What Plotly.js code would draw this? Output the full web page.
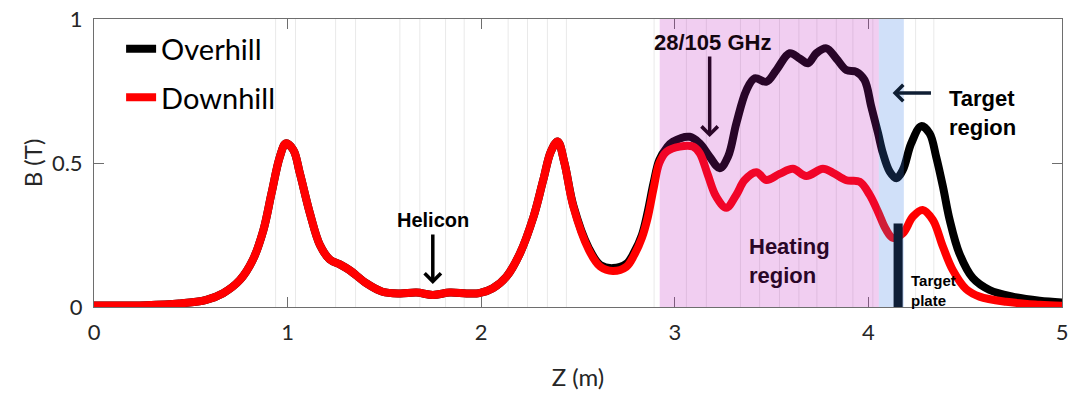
<!DOCTYPE html>
<html>
<head>
<meta charset="utf-8">
<script src="https://cdn.plot.ly/plotly-3.0.1.min.js"></script>
<style>html,body{margin:0;padding:0;background:#fff;}#chart{width:1070px;height:396px;}</style>
</head>
<body>
<div id="chart"></div>
<script>
// Downhill configuration (red)
const zDownhill = [0, 0.27, 0.44, 0.58, 0.667, 0.754, 0.82, 0.875, 0.917, 0.96, 0.991, 1.03, 1.063, 1.115, 1.167, 1.218, 1.27, 1.32, 1.408, 1.49, 1.58, 1.666, 1.75, 1.838, 1.924, 1.99, 2.06, 2.13, 2.2, 2.27, 2.32, 2.36, 2.395, 2.43, 2.476, 2.556, 2.615, 2.68, 2.75, 2.79, 2.83, 2.86, 2.89, 2.92, 2.957, 3.025, 3.094, 3.129, 3.17, 3.214, 3.266, 3.318, 3.36, 3.421, 3.473, 3.541, 3.61, 3.679, 3.765, 3.817, 3.886, 3.955, 4.006, 4.05, 4.09, 4.127, 4.178, 4.23, 4.28, 4.333, 4.385, 4.436, 4.505, 4.574, 4.712, 4.884, 5.0];
const bDownhill = [0.005, 0.006, 0.012, 0.025, 0.048, 0.094, 0.163, 0.267, 0.395, 0.522, 0.568, 0.545, 0.465, 0.326, 0.215, 0.165, 0.148, 0.128, 0.082, 0.053, 0.047, 0.05, 0.042, 0.05, 0.047, 0.048, 0.065, 0.105, 0.186, 0.313, 0.44, 0.54, 0.575, 0.5, 0.348, 0.198, 0.14, 0.125, 0.14, 0.18, 0.24, 0.31, 0.41, 0.5, 0.539, 0.557, 0.557, 0.534, 0.46, 0.383, 0.345, 0.39, 0.44, 0.468, 0.441, 0.462, 0.48, 0.455, 0.48, 0.466, 0.44, 0.435, 0.39, 0.33, 0.27, 0.24, 0.256, 0.314, 0.337, 0.302, 0.209, 0.128, 0.062, 0.036, 0.018, 0.008, 0.004];

// Overhill configuration (black)
const zOverhill = [0, 0.27, 0.44, 0.58, 0.667, 0.754, 0.82, 0.875, 0.917, 0.96, 0.991, 1.03, 1.063, 1.115, 1.167, 1.218, 1.27, 1.32, 1.408, 1.49, 1.58, 1.666, 1.75, 1.838, 1.924, 1.99, 2.06, 2.13, 2.2, 2.27, 2.32, 2.36, 2.395, 2.43, 2.476, 2.556, 2.615, 2.68, 2.75, 2.79, 2.83, 2.86, 2.89, 2.92, 2.96, 2.99, 3.077, 3.129, 3.18, 3.232, 3.275, 3.318, 3.37, 3.413, 3.473, 3.525, 3.593, 3.645, 3.688, 3.731, 3.783, 3.834, 3.886, 3.937, 3.98, 4.015, 4.05, 4.075, 4.11, 4.144, 4.178, 4.221, 4.273, 4.316, 4.35, 4.385, 4.42, 4.47, 4.54, 4.626, 4.745, 4.884, 5.0];
const bOverhill = [0.005, 0.006, 0.012, 0.025, 0.048, 0.094, 0.163, 0.267, 0.395, 0.522, 0.568, 0.545, 0.465, 0.326, 0.215, 0.165, 0.148, 0.128, 0.082, 0.053, 0.047, 0.05, 0.042, 0.05, 0.047, 0.048, 0.065, 0.105, 0.186, 0.313, 0.44, 0.54, 0.575, 0.5, 0.352, 0.204, 0.146, 0.135, 0.15, 0.19, 0.25, 0.33, 0.43, 0.51, 0.555, 0.574, 0.591, 0.568, 0.522, 0.482, 0.522, 0.638, 0.753, 0.794, 0.782, 0.823, 0.881, 0.863, 0.846, 0.881, 0.898, 0.863, 0.823, 0.817, 0.788, 0.695, 0.603, 0.534, 0.47, 0.447, 0.476, 0.568, 0.628, 0.603, 0.522, 0.418, 0.302, 0.186, 0.1, 0.059, 0.036, 0.022, 0.016];

// Faint vertical lines (coil positions, m)
const coilZ = [0.938, 1.041, 1.248, 1.351, 1.580, 1.683, 1.816, 1.912, 2.139, 2.239, 2.342, 2.44, 2.893, 3.06, 3.163, 3.339, 3.438, 3.541, 3.641, 3.734, 3.834, 3.92, 4.023, 4.244, 4.338];

// Regions (m)
const heatingRegion = [2.922, 4.054];
const targetRegion = [4.054, 4.183];
const targetPlate = {z0: 4.13, z1: 4.177, top: 0.29};

const xTicks = [0, 1, 2, 3, 4, 5];
const yTicks = [0, 0.5, 1];
const xTickText = ['0', '1', '2', '3', '4', '5'];
const yTickText = ['0', '0.5', '1'];

const tickFont = {family: 'Lato, "Open Sans", sans-serif', size: 22, color: '#262626'};
const boldFont = 'Liberation Sans, Arial, sans-serif';

const traces = [
  {x: zOverhill, y: bOverhill, name: 'Overhill', type: 'scatter', mode: 'lines',
   line: {color: '#000000', width: 8, shape: 'spline', smoothing: 1}, legendgroup: 'a'},
  {x: zDownhill, y: bDownhill, name: 'Downhill', type: 'scatter', mode: 'lines',
   line: {color: '#ff0000', width: 8, shape: 'spline', smoothing: 1}, legendgroup: 'b'}
];

const shapes = [];
coilZ.forEach(z => shapes.push({type: 'line', xref: 'x', yref: 'paper', x0: z, x1: z, y0: 0, y1: 1,
  line: {color: 'rgba(0,0,0,0.09)', width: 1}, layer: 'below'}));
shapes.push({type: 'rect', xref: 'x', yref: 'y', x0: targetPlate.z0, x1: targetPlate.z1, y0: 0, y1: targetPlate.top,
  fillcolor: '#000000', line: {width: 0}, layer: 'above'});
shapes.push({type: 'rect', xref: 'x', yref: 'paper', x0: heatingRegion[0], x1: heatingRegion[1], y0: 0, y1: 1,
  fillcolor: 'rgba(190,24,190,0.21)', line: {width: 0}, layer: 'above'});
shapes.push({type: 'rect', xref: 'x', yref: 'paper', x0: targetRegion[0], x1: targetRegion[1], y0: 0, y1: 1,
  fillcolor: 'rgba(60,125,230,0.24)', line: {width: 0}, layer: 'above'});

const annotations = [
  {x: 3.193, y: 0.92, xref: 'x', yref: 'y', text: '<b>28/105 GHz</b>', showarrow: false,
   font: {family: boldFont, size: 22, color: '#14060f'}},
  {x: 3.18, y: 0.59, ax: 3.18, ay: 0.875, xref: 'x', yref: 'y', axref: 'x', ayref: 'y', text: '',
   showarrow: true, arrowhead: 4, arrowsize: 0.9, arrowwidth: 3.5, arrowcolor: '#2a0628', standoff: 0},
  {x: 1.75, y: 0.302, xref: 'x', yref: 'y', text: '<b>Helicon</b>', showarrow: false,
   font: {family: boldFont, size: 20, color: '#000000'}},
  {x: 1.75, y: 0.08, ax: 1.75, ay: 0.257, xref: 'x', yref: 'y', axref: 'x', ayref: 'y', text: '',
   showarrow: true, arrowhead: 4, arrowsize: 0.9, arrowwidth: 3.5, arrowcolor: '#000000', standoff: 0},
  {x: 4.404, y: 0.674, xref: 'x', yref: 'y', text: '<b>Target<br>region</b>', showarrow: false,
   xanchor: 'left', align: 'left', font: {family: boldFont, size: 22, color: '#000000'}},
  {x: 4.125, y: 0.743, ax: 4.331, ay: 0.743, xref: 'x', yref: 'y', axref: 'x', ayref: 'y', text: '',
   showarrow: true, arrowhead: 4, arrowsize: 0.9, arrowwidth: 3.5, arrowcolor: '#0f1e33', standoff: 0},
  {x: 3.371, y: 0.16, xref: 'x', yref: 'y', text: '<b>Heating<br>region</b>', showarrow: false,
   xanchor: 'left', align: 'left', font: {family: boldFont, size: 22, color: '#2a0628'}},
  {x: 4.208, y: 0.059, xref: 'x', yref: 'y', text: '<b>Target<br>plate</b>', showarrow: false,
   xanchor: 'left', align: 'left', font: {family: boldFont, size: 15, color: '#000000'}}
];

const axisCommon = {
  showgrid: false, zeroline: false, showline: true, linecolor: '#6e6e6e', linewidth: 1,
  mirror: 'ticks', ticks: 'inside', ticklen: 10, tickwidth: 1, tickcolor: '#6e6e6e',
  tickfont: tickFont, ticklabelstandoff: 6
};

const layout = {
  width: 1070, height: 396,
  margin: {l: 94, r: 8, t: 19, b: 89},
  paper_bgcolor: '#ffffff', plot_bgcolor: '#ffffff',
  showlegend: true,
  legend: {x: 0.028, y: 0.985, xanchor: 'left', yanchor: 'top', bgcolor: 'rgba(0,0,0,0)',
    font: {family: 'Lato, "Open Sans", sans-serif', size: 29, color: '#000000'},
    traceorder: 'grouped', tracegroupgap: 8, itemwidth: 30},
  xaxis: Object.assign({}, axisCommon, {range: [0, 5], tickvals: xTicks, ticktext: xTickText,
    title: {text: 'Z (m)', font: {family: 'Lato, "Open Sans", sans-serif', size: 24, color: '#262626'}, standoff: 24}}),
  yaxis: Object.assign({}, axisCommon, {range: [0, 1], tickvals: yTicks, ticktext: yTickText,
    title: {text: 'B (T)', font: {family: 'Lato, "Open Sans", sans-serif', size: 24, color: '#262626'}, standoff: 2}}),
  shapes: shapes,
  annotations: annotations
};

Plotly.newPlot('chart', traces, layout, {displayModeBar: false, staticPlot: true});
</script>
</body>
</html>
